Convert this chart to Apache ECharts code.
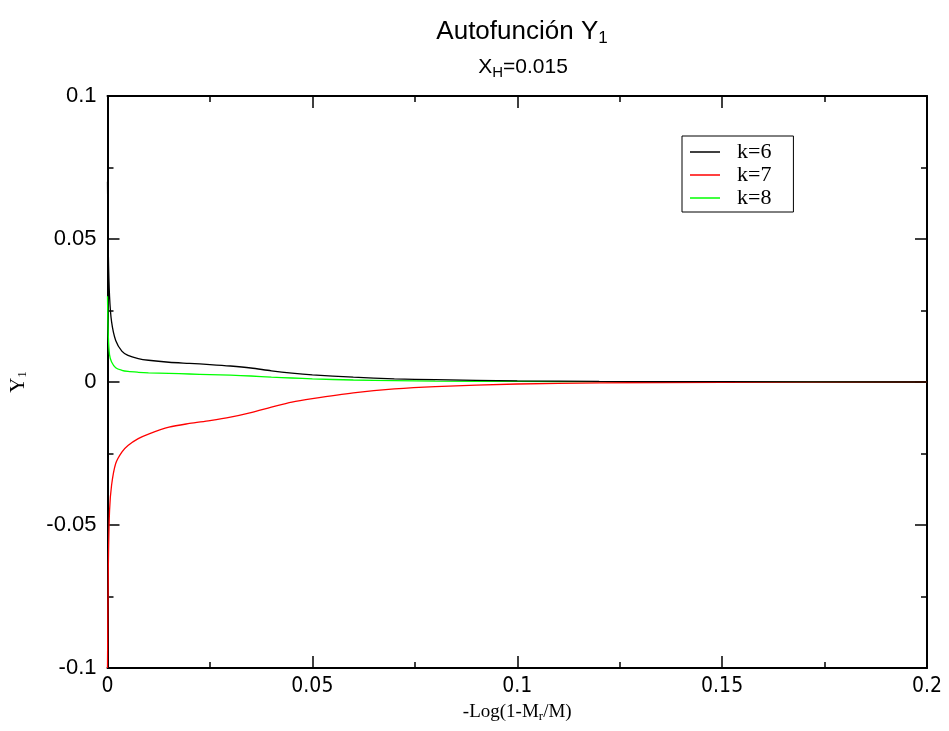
<!DOCTYPE html>
<html><head><meta charset="utf-8">
<script src="https://cdn.jsdelivr.net/npm/echarts@6/dist/echarts.min.js"></script>
<style>html,body{margin:0;padding:0;background:#fff}#c{width:949px;height:731px}</style>
</head><body><div id="c"></div>
<script>
const xValues = [0, 0.0002, 0.0005, 0.001, 0.002, 0.0035, 0.005, 0.0075, 0.01, 0.015, 0.02, 0.025, 0.03, 0.035, 0.04, 0.045, 0.05, 0.06, 0.07, 0.08, 0.1, 0.12, 0.15, 0.2];
const k6 = [0.07, 0.045, 0.030, 0.021, 0.0145, 0.0108, 0.0093, 0.0082, 0.0076, 0.0069, 0.0065, 0.0061, 0.0056, 0.0049, 0.0039, 0.0031, 0.0025, 0.0017, 0.0011, 0.0008, 0.0004, 0.0002, 0.0001, 0];
const k7 = [-0.1, -0.065, -0.045, -0.036, -0.0285, -0.0245, -0.0222, -0.0198, -0.0182, -0.0158, -0.0145, -0.0135, -0.0123, -0.0107, -0.0088, -0.007, -0.0058, -0.0038, -0.0024, -0.0016, -0.0007, -0.0003, -0.0001, 0];
const k8 = [0.03, 0.016, 0.0095, 0.007, 0.005, 0.0041, 0.0037, 0.0034, 0.0032, 0.003, 0.0028, 0.0026, 0.0024, 0.0021, 0.0017, 0.0014, 0.0011, 0.0007, 0.0005, 0.0003, 0.0002, 0.0001, 0.00005, 0];
const seriesNames = ['k=6', 'k=7', 'k=8'];
const seriesColors = ['#000000', '#ff0000', '#00ff00'];
const xTicks = [0, 0.05, 0.1, 0.15, 0.2];
const yTicks = [-0.1, -0.05, 0, 0.05, 0.1];

const pair = ys => xValues.map((x, i) => [x, ys[i]]);
const fmt = v => { const r = Math.round(v * 1000) / 1000; return r === 0 ? '0' : String(r); };
const chart = echarts.init(document.getElementById('c'), null, {renderer: 'canvas'});
const axisCommon = {
  axisLine: {show: true, onZero: false, lineStyle: {color: '#000', width: 2}},
  axisTick: {show: true, inside: true, length: 12, lineStyle: {color: '#000', width: 1.5}},
  minorTick: {show: true, splitNumber: 2, length: 6, lineStyle: {color: '#000', width: 1.5}},
  splitLine: {show: false}
};
const sans = 'Liberation Sans';
const narrow = '"Liberation Sans Narrow", "DejaVu Sans Condensed", "Liberation Sans"';
const serif = 'Liberation Serif';
chart.setOption({
  animation: false,
  backgroundColor: '#fff',
  title: [{
    text: '{a|Autofunción Y}{s|1}',
    left: 517, top: 12, textAlign: 'center',
    textStyle: {rich: {
      a: {fontFamily: sans, fontSize: 26, fontWeight: 'normal', color: '#000'},
      s: {fontFamily: sans, fontSize: 17, fontWeight: 'normal', color: '#000', padding: [13, 0, 0, 0]}
    }}
  }, {
    text: '{a|X}{s|H}{a|=0.015}',
    left: 518, top: 49, textAlign: 'center',
    textStyle: {rich: {
      a: {fontFamily: sans, fontSize: 21, fontWeight: 'normal', color: '#000'},
      s: {fontFamily: sans, fontSize: 15, fontWeight: 'normal', color: '#000', padding: [11, 0, 0, 0]}
    }}
  }],
  legend: {
    orient: 'vertical', left: 682, top: 136,
    data: seriesNames,
    icon: 'rect', itemWidth: 30, itemHeight: 1.5, itemGap: 1,
    padding: [5, 22, 3, 8],
    borderColor: '#000', borderWidth: 1, borderRadius: 0,
    textStyle: {fontFamily: serif, fontSize: 22, lineHeight: 22, color: '#000', padding: [0, 0, 0, 12]}
  },
  grid: {left: 107, right: 22, top: 96, bottom: 63, containLabel: false},
  xAxis: [Object.assign({
    type: 'value', min: 0, max: 0.2, interval: 0.05, position: 'bottom',
    name: '{a|-Log(1-M}{s|r}{a|/M)}', nameLocation: 'middle', nameGap: 34,
    nameTextStyle: {rich: {
      a: {fontFamily: serif, fontSize: 19, color: '#000'},
      s: {fontFamily: serif, fontSize: 13, color: '#000', padding: [8, 0, 0, 0]}
    }},
    axisLabel: {color: '#000', fontFamily: narrow, fontSize: 21, margin: 8, formatter: fmt,
      customValues: xTicks}
  }, axisCommon), Object.assign({
    type: 'value', min: 0, max: 0.2, interval: 0.05, position: 'top',
    axisLabel: {show: false}
  }, axisCommon)],
  yAxis: [Object.assign({
    type: 'value', min: -0.1, max: 0.1, interval: 0.05, position: 'left',
    name: '{a|Y}{s|1}', nameLocation: 'middle', nameGap: 78, nameRotate: 90,
    nameTextStyle: {rich: {
      a: {fontFamily: serif, fontSize: 21, color: '#000'},
      s: {fontFamily: serif, fontSize: 13, color: '#000', padding: [9, 0, 0, 0]}
    }},
    axisLabel: {color: '#000', fontFamily: sans, fontSize: 22, margin: 11, formatter: fmt,
      customValues: yTicks}
  }, axisCommon), Object.assign({
    type: 'value', min: -0.1, max: 0.1, interval: 0.05, position: 'right',
    axisLabel: {show: false}
  }, axisCommon)],
  series: [k6, k7, k8].map((ys, i) => ({
    name: seriesNames[i], type: 'line', data: pair(ys), xAxisIndex: 0, yAxisIndex: 0,
    symbol: 'none', smooth: 0.3, color: seriesColors[i],
    lineStyle: {color: seriesColors[i], width: 1.3}, z: 3 - i
  }))
});
</script></body></html>
